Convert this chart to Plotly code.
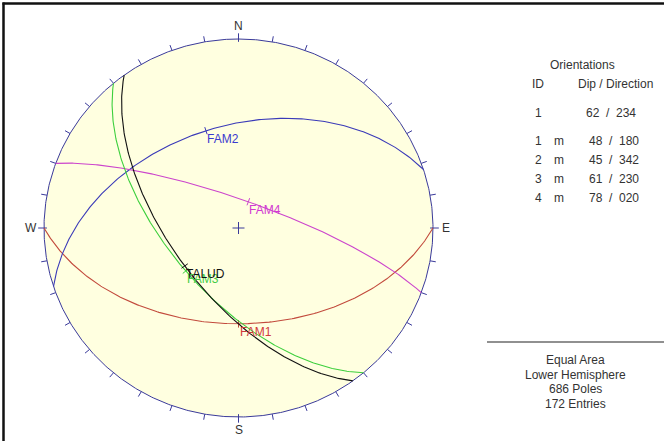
import numpy as np
import plotly.graph_objects as go

# ---------------- data ----------------
names = ["TALUD", "FAM1", "FAM2", "FAM3", "FAM4"]
ids = ["1", "1", "2", "3", "4"]
kinds = ["", "m", "m", "m", "m"]
dips = [62, 48, 45, 61, 78]
dip_dirs = [234, 180, 342, 230, 20]
info_lines = ["Equal Area", "Lower Hemisphere", "686 Poles", "172 Entries"]
cardinals = ["N", "E", "S", "W"]
cardinal_az = [0, 90, 180, 270]

# ---------------- styles ----------------
colors = {"TALUD": "#111111", "FAM1": "#c24a3c", "FAM2": "#3a3ab8",
          "FAM3": "#3ccf3c", "FAM4": "#cc44cc"}
label_colors = {"TALUD": "#111111", "FAM1": "#d03a3a", "FAM2": "#3a3acf",
                "FAM3": "#44cc44", "FAM4": "#d23ad2"}
prim_col = "#3a3a9a"
W, H = 664, 441
cx, cy, rx, ry = 238.5, 228.0, 194.5, 189.0
FONT = "Liberation Sans, Arial, sans-serif"
TXT = "#333333"


def proj(plunge, trend):
    rho = np.sqrt(2) * np.sin((np.pi / 2 - plunge) / 2)
    return rho * np.sin(trend), rho * np.cos(trend)


def great_circle(dip, ddir, n=241):
    d, a = np.radians(dip), np.radians(ddir)
    r = np.linspace(0, np.pi, n)
    s = np.array([np.cos(a - np.pi / 2), np.sin(a - np.pi / 2), 0.0])
    dv = np.array([np.cos(d) * np.cos(a), np.cos(d) * np.sin(a), np.sin(d)])
    v = np.outer(np.cos(r), s) + np.outer(np.sin(r), dv)
    plunge = np.arcsin(np.clip(v[:, 2], -1, 1))
    trend = np.arctan2(v[:, 1], v[:, 0])
    return proj(plunge, trend)


fig = go.Figure()

# primitive circle with fill
t = np.linspace(0, 2 * np.pi, 721)
fig.add_trace(go.Scatter(x=np.sin(t), y=np.cos(t), mode="lines", fill="toself",
                         fillcolor="#ffffe0", line=dict(color=prim_col, width=1),
                         hoverinfo="skip", showlegend=False))

# ticks every 10 degrees
tx, ty = [], []
for az in range(0, 360, 10):
    a = np.radians(az)
    r1 = 1.0 if az % 90 else 0.985
    r2 = 1.03
    tx += [r1 * np.sin(a), r2 * np.sin(a), None]
    ty += [r1 * np.cos(a), r2 * np.cos(a), None]
fig.add_trace(go.Scatter(x=tx, y=ty, mode="lines", line=dict(color=prim_col, width=1),
                         hoverinfo="skip", showlegend=False))

# centre cross
fig.add_trace(go.Scatter(x=[-6 / rx, 6 / rx, None, 0, 0],
                         y=[0, 0, None, -6 / ry, 6 / ry], mode="lines",
                         line=dict(color=prim_col, width=1), hoverinfo="skip",
                         showlegend=False))

order = ["FAM1", "FAM2", "FAM4", "FAM3", "TALUD"]
for nm in order:
    i = names.index(nm)
    x, y = great_circle(dips[i], dip_dirs[i])
    fig.add_trace(go.Scatter(x=x, y=y, mode="lines",
                             line=dict(color=colors[nm], width=1.1),
                             hoverinfo="skip", showlegend=False))
    d, a = np.radians(dips[i]), np.radians(dip_dirs[i])
    px, py = proj(d, a)
    ux, uy = np.sin(a), np.cos(a)
    dl = 0.02
    fig.add_trace(go.Scatter(x=[px - dl * ux, px + dl * ux], y=[py - dl * uy, py + dl * uy],
                             mode="lines", line=dict(color=colors[nm], width=1),
                             hoverinfo="skip", showlegend=False))
    fig.add_annotation(x=px, y=py, text=nm, showarrow=False, xanchor="left",
                       yanchor="top", xshift=-1, yshift=1,
                       font=dict(family=FONT, size=12, color=label_colors[nm]))

# cardinal labels
for lab, az in zip(cardinals, cardinal_az):
    a = np.radians(az)
    off_px = 13
    fig.add_annotation(x=(1 + off_px / rx) * np.sin(a), y=(1 + off_px / ry) * np.cos(a),
                       text=lab, showarrow=False, xanchor="center", yanchor="middle",
                       font=dict(family=FONT, size=12, color=TXT))


def P(px, py):
    return px / W, 1 - py / H


def txt(px, py, s, anchor="center"):
    x, y = P(px, py)
    fig.add_annotation(x=x, y=y, xref="paper", yref="paper", text=s, showarrow=False,
                       xanchor=anchor, yanchor="middle",
                       font=dict(family=FONT, size=12, color=TXT))


txt(582, 65, "Orientations")
txt(538, 84, "ID")
txt(615, 84, "Dip / Direction")
row_y = [113, 141, 160, 179, 198]
for i in range(len(names)):
    txt(538, row_y[i], ids[i])
    if kinds[i]:
        txt(559, row_y[i], kinds[i])
    txt(584 if i == 0 else 587, row_y[i], f"{dips[i]}  /  {dip_dirs[i]:03d}", anchor="left")

for k, s in enumerate(info_lines):
    txt(575, 360 + 14.5 * k, s)

shapes = [
    dict(type="line", xref="paper", yref="paper", x0=487 / W, x1=1, y0=1 - 342 / H, y1=1 - 342 / H,
         line=dict(color="#909090", width=2)),
    dict(type="line", xref="paper", yref="paper", x0=3.5 / W, x1=3.5 / W, y0=0, y1=1 - 2.5 / H,
         line=dict(color="#111111", width=2.5)),
    dict(type="line", xref="paper", yref="paper", x0=2.5 / W, x1=1, y0=1 - 3.5 / H, y1=1 - 3.5 / H,
         line=dict(color="#111111", width=2.5)),
]

fig.update_layout(
    width=W, height=H, margin=dict(l=0, r=0, t=0, b=0),
    paper_bgcolor="white", plot_bgcolor="white", shapes=shapes,
    xaxis=dict(range=[-cx / rx, (W - cx) / rx], visible=False, domain=[0, 1]),
    yaxis=dict(range=[(cy - H) / ry, cy / ry], visible=False, domain=[0, 1]),
    showlegend=False,
)

fig.write_html("out.html", config={"displayModeBar": False},
               post_script="document.body.style.margin='0';document.body.style.overflow='hidden';")
